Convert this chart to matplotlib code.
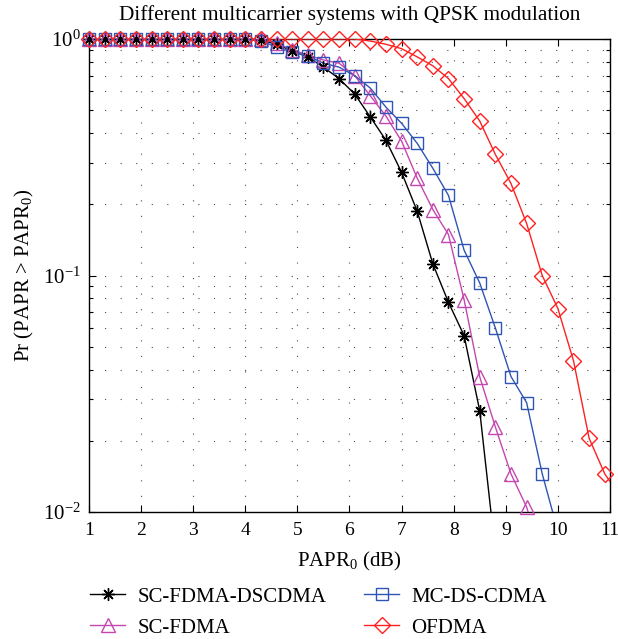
import numpy as np
import matplotlib
matplotlib.use('Agg')
import matplotlib.pyplot as plt
from matplotlib.lines import Line2D
from matplotlib.ticker import LogLocator, NullFormatter

plt.rcParams['font.family'] = 'Liberation Serif'
plt.rcParams['mathtext.fontset'] = 'custom'
plt.rcParams['mathtext.rm'] = 'Liberation Serif'
plt.rcParams['mathtext.it'] = 'Liberation Serif:italic'
plt.rcParams['mathtext.default'] = 'regular'

# PAPR0 (dB) sample points
papr0 = [1.0, 1.3, 1.6, 1.9, 2.2, 2.5, 2.8, 3.1, 3.4, 3.7, 4.0, 4.3, 4.6, 4.9,
         5.2, 5.5, 5.8, 6.1, 6.4, 6.7, 7.0, 7.3, 7.6, 7.9, 8.2, 8.5, 8.8, 9.1,
         9.4, 9.7, 10.0, 10.3, 10.6, 10.9, 11.2]

ccdf_scfdma_dscdma = [1.0, 1.0, 1.0, 1.0, 1.0, 1.0, 1.0, 1.0, 1.0, 1.0, 1.0,
                      0.99, 0.95, 0.89, 0.84, 0.76, 0.68, 0.585, 0.468, 0.373,
                      0.273, 0.187, 0.112, 0.077, 0.0557, 0.0268, 0.0068]
ccdf_scfdma = [1.0, 1.0, 1.0, 1.0, 1.0, 1.0, 1.0, 1.0, 1.0, 1.0, 1.0, 1.0,
               0.96, 0.90, 0.855, 0.815, 0.79, 0.70, 0.575, 0.472, 0.370,
               0.258, 0.190, 0.149, 0.079, 0.0373, 0.0229, 0.0145, 0.0105,
               0.0063]
ccdf_mcdscdma = [1.0, 1.0, 1.0, 1.0, 1.0, 1.0, 1.0, 1.0, 1.0, 1.0, 1.0,
                 0.98, 0.925, 0.88, 0.847, 0.79, 0.76, 0.70, 0.62, 0.515,
                 0.44, 0.362, 0.284, 0.218, 0.128, 0.093, 0.060, 0.0374,
                 0.029, 0.0145, 0.0083]
ccdf_ofdma = [1.0, 1.0, 1.0, 1.0, 1.0, 1.0, 1.0, 1.0, 1.0, 1.0, 1.0, 1.0,
              1.0, 1.0, 1.0, 1.0, 1.0, 1.0, 0.98, 0.95, 0.91, 0.84, 0.77,
              0.68, 0.56, 0.45, 0.325, 0.245, 0.166, 0.100, 0.0725, 0.0436,
              0.0205, 0.0145, 0.0116]

labels = ['SC-FDMA-DSCDMA', 'SC-FDMA', 'MC-DS-CDMA', 'OFDMA']
series = [ccdf_scfdma_dscdma, ccdf_scfdma, ccdf_mcdscdma, ccdf_ofdma]
colors = ['black', '#c447b0', '#2f55b4', '#ff2020']
markers = [(8, 2, 0), '^', 's', 'D']
msizes = [9, 10, 8.5, 8]

fig = plt.figure(figsize=(6.18, 6.39), dpi=100)
ax = fig.add_axes([0.144, 0.1987, 0.843, 0.7403])

handles = []
for y, c, m, ms, lab in zip(series, colors, markers, msizes, labels):
    xs = np.array(papr0[:len(y)])
    ys = np.array(y)
    ax.plot(xs, ys, color=c, lw=1.0, zorder=3)
    keep = (ys >= 0.01) & (xs <= 11)
    ax.plot(xs[keep], ys[keep], ls='none', marker=m, ms=ms, mfc='none',
            mec=c, mew=1.0, clip_on=False, zorder=4)
    handles.append(Line2D([], [], color=c, lw=1.0, marker=m, ms=ms,
                          mfc='none', mec=c, mew=1.0, label=lab))

ax.set_yscale('log')
ax.set_xlim(1, 11)
ax.set_ylim(0.01, 1)
ax.set_xticks(range(1, 12))
ax.yaxis.set_minor_locator(LogLocator(base=10, subs=np.arange(2, 10)))
ax.yaxis.set_minor_formatter(NullFormatter())
ax.tick_params(which='both', direction='in', top=True, right=True,
               labelsize=15, width=0.8)
ax.tick_params(which='major', length=5)
ax.tick_params(which='minor', length=3)
ax.tick_params(axis='x', pad=7, labelsize=14)
ax.tick_params(axis='y', pad=6)
for s in ax.spines.values():
    s.set_linewidth(1.0)

ax.grid(True, which='major', axis='x', color='0.3', lw=0.8, ls=(0, (1, 13)))
ax.grid(True, which='both', axis='y', color='0.3', lw=0.8, ls=(0, (1, 13)))
ax.set_axisbelow(True)

ax.set_title('Different multicarrier systems with QPSK modulation',
             fontsize=15.3, pad=14)
ax.set_xlabel('PAPR$_0$ (dB)', fontsize=15, labelpad=8)
ax.set_ylabel('Pr (PAPR > PAPR$_0$)', fontsize=15, labelpad=5)

fig.legend(handles=handles, loc='upper left', bbox_to_anchor=(0.1456, 0.0815),
           ncol=2, frameon=False, fontsize=15, handlelength=1.7,
           handletextpad=0.58, columnspacing=1.8, labelspacing=0.55,
           borderpad=0, borderaxespad=0)

fig.savefig('out.png', dpi=100)
